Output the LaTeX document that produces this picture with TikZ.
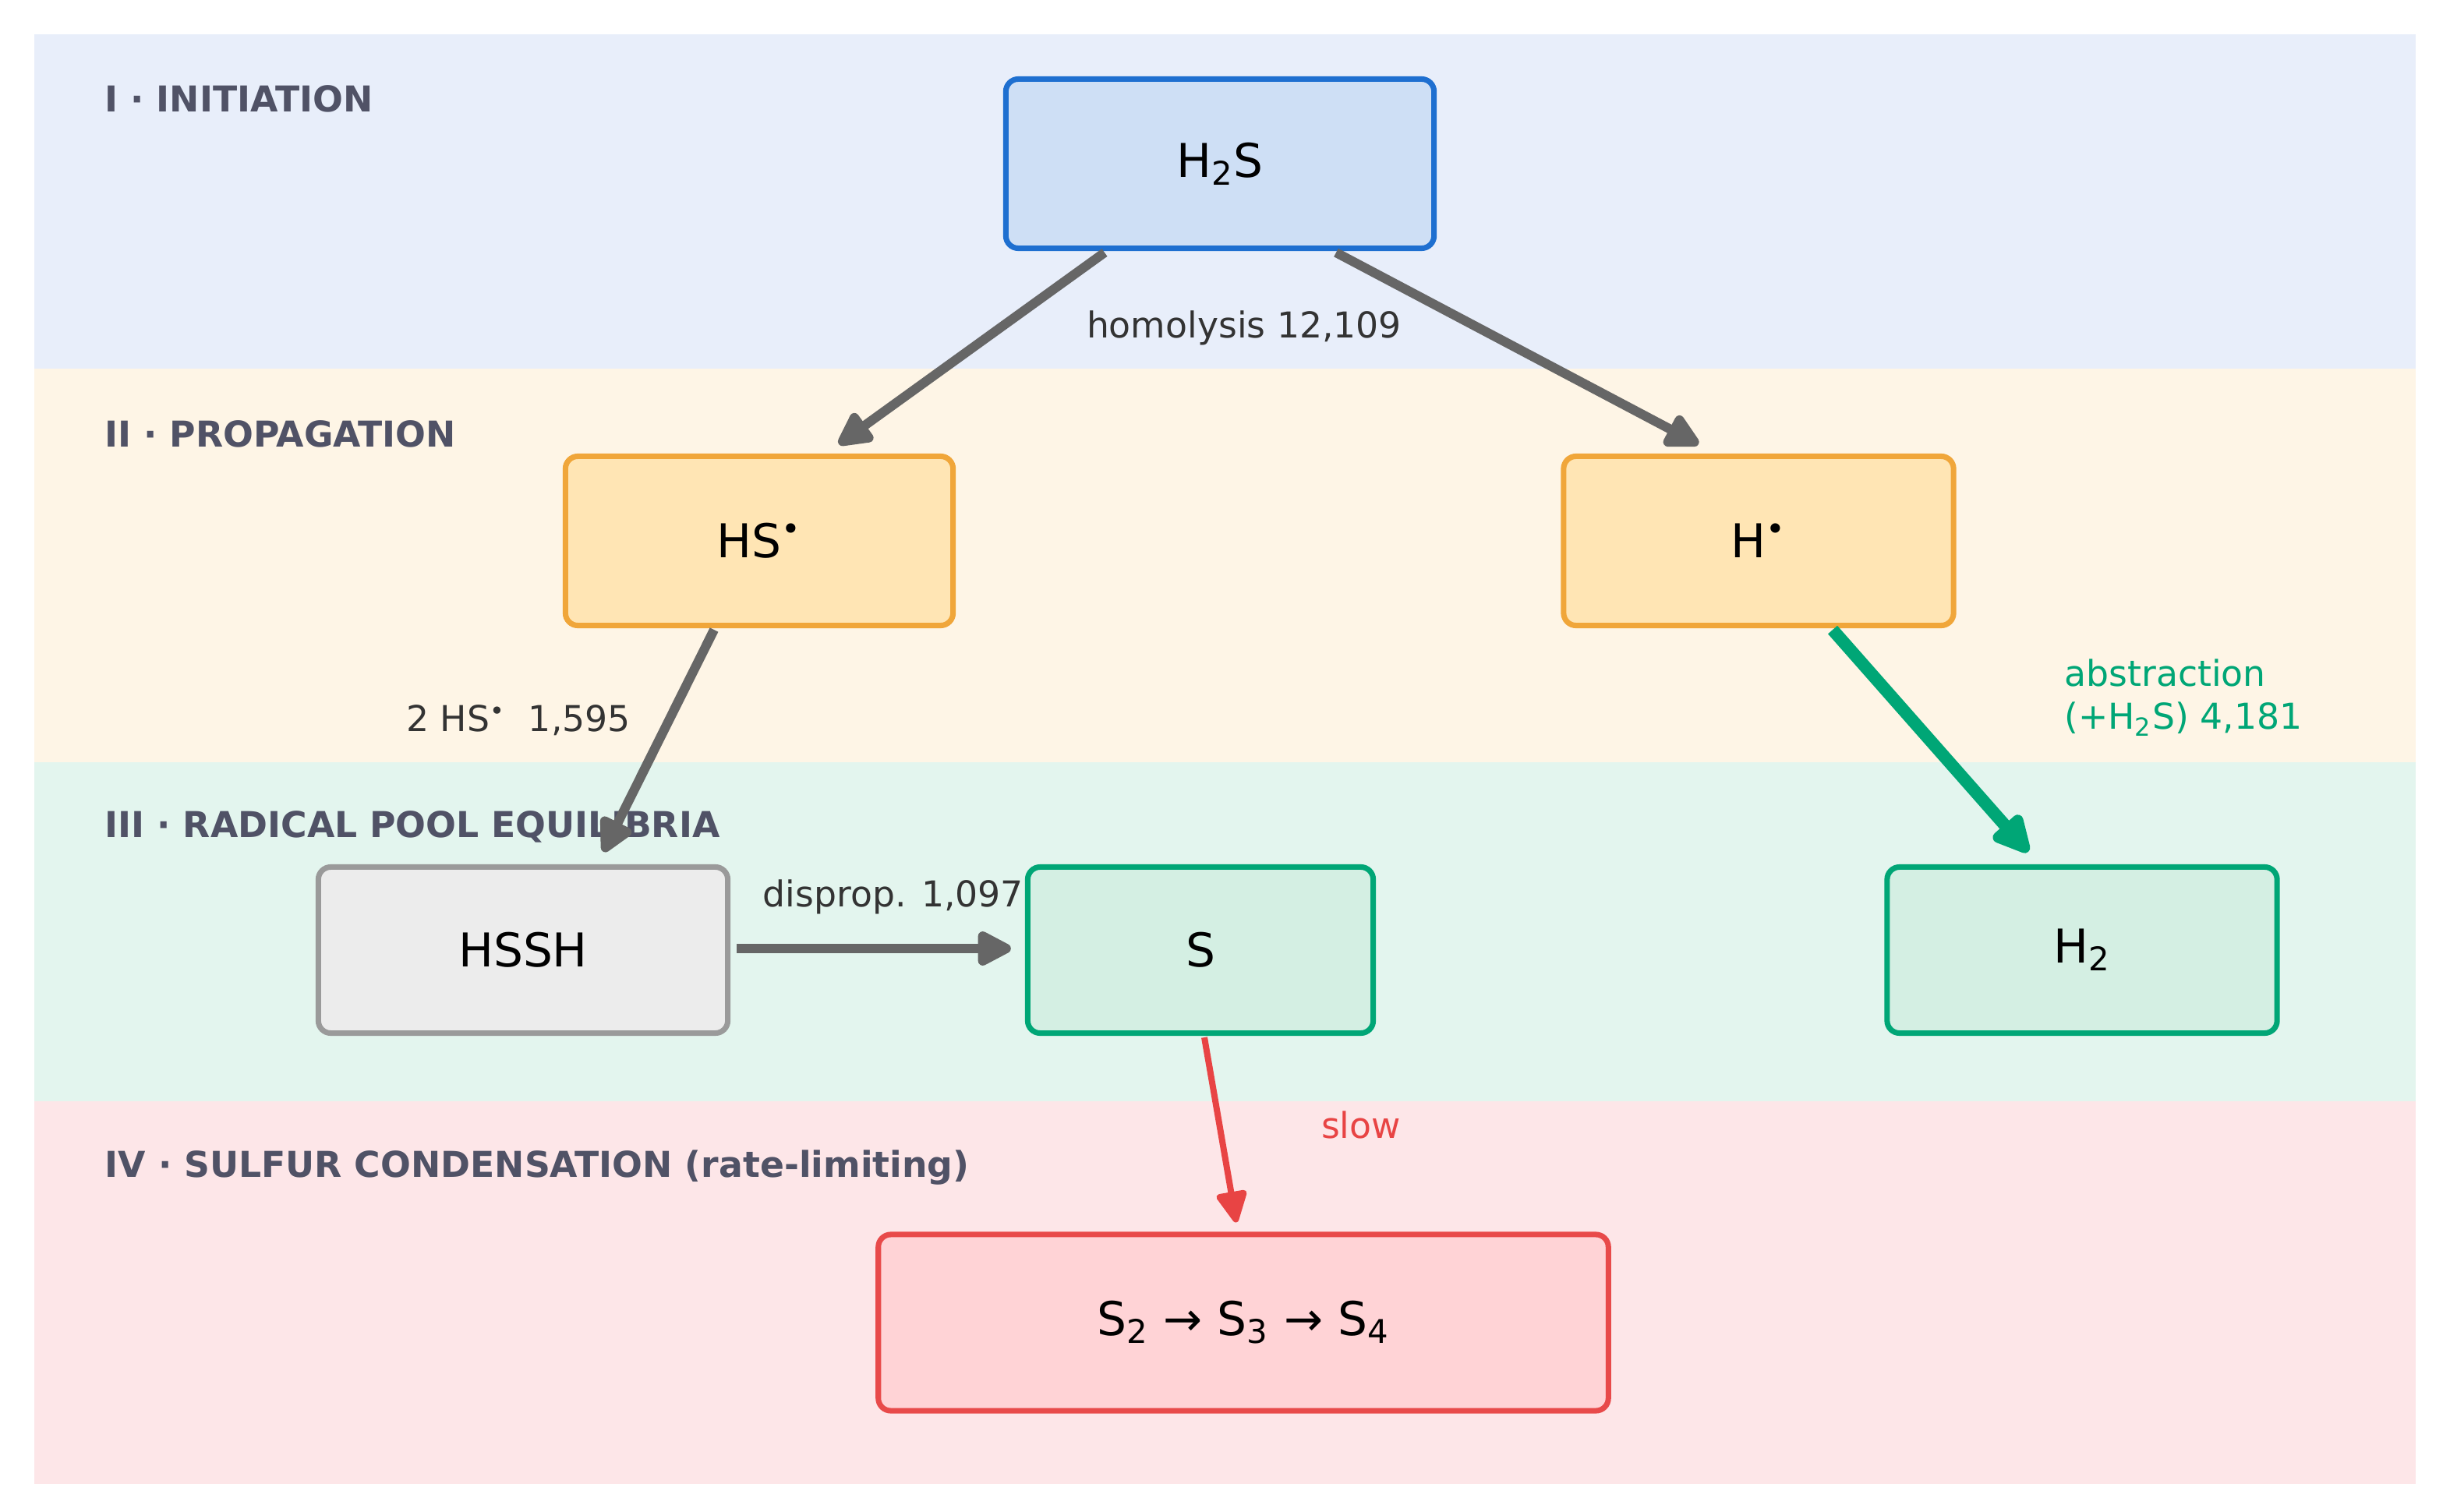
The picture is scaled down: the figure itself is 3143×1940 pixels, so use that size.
\documentclass[tikz,border=0pt]{standalone}
\usepackage{fontspec}
\setmainfont{DejaVu Sans}
\usetikzlibrary{arrows.meta}
\definecolor{bandA}{HTML}{E8EEFA}
\definecolor{bandB}{HTML}{FEF5E6}
\definecolor{bandC}{HTML}{E3F5EE}
\definecolor{bandD}{HTML}{FDE6E8}
\definecolor{blueFill}{HTML}{CEDFF5}
\definecolor{blueLine}{HTML}{1E6FD0}
\definecolor{orFill}{HTML}{FFE5B4}
\definecolor{orLine}{HTML}{F0A63A}
\definecolor{grFill}{HTML}{ECECEC}
\definecolor{grLine}{HTML}{9A9A9A}
\definecolor{gnFill}{HTML}{D4EFE3}
\definecolor{gnLine}{HTML}{00A676}
\definecolor{rdFill}{HTML}{FFD3D6}
\definecolor{rdLine}{HTML}{E84A4A}
\definecolor{titleCol}{HTML}{505266}
\definecolor{labCol}{HTML}{333333}
\definecolor{arrGray}{HTML}{666666}
\definecolor{arrGreen}{HTML}{00A676}
\definecolor{arrRed}{HTML}{E84444}
\begin{document}
\begin{tikzpicture}[x=0.01cm,y=-0.01cm,
  species/.style={rectangle, rounded corners=0.16cm, line width=2pt, inner sep=0pt,
    font=\fontsize{17}{20}\selectfont, text=black},
  bandtitle/.style={anchor=west, inner sep=0pt, font=\fontsize{13}{15}\selectfont\bfseries, text=titleCol},
  lab/.style={font=\fontsize{13}{15.5}\selectfont, text=labCol},
  grayarrow/.style={draw=arrGray, line width=0.12cm, -{Triangle[length=0.5cm,width=0.48cm,round]}},
  greenarrow/.style={draw=arrGreen, line width=0.16cm, -{Triangle[length=0.56cm,width=0.52cm,round]}},
  redarrow/.style={draw=arrRed, line width=0.08cm, -{Triangle[length=0.45cm,width=0.42cm,round]}}
]
\useasboundingbox[fill=white] (0,0) rectangle (3143,1940);
% bands
\fill[bandA] (44,44) rectangle (3099,473);
\fill[bandB] (44,473) rectangle (3099,978);
\fill[bandC] (44,978) rectangle (3099,1413);
\fill[bandD] (44,1413) rectangle (3099,1904);
\node[bandtitle] (tI) at (134,127) {I · INITIATION};
\node[bandtitle] (tII) at (134,557) {II · PROPAGATION};
\node[bandtitle] (tIII) at (134,1061) {III · RADICAL POOL EQUILIBRIA};
\node[bandtitle] (tIV) at (134,1498) {IV · SULFUR CONDENSATION (rate-limiting)};
% species
\node[species, fill=blueFill, draw=blueLine, minimum width=5.49cm, minimum height=2.17cm] (h2s) at (1565,210) {H\textsubscript{2}S};
\node[species, fill=orFill, draw=orLine, minimum width=4.97cm, minimum height=2.17cm] (hs) at (974,694) {HS\textsuperscript{•}};
\node[species, fill=orFill, draw=orLine, minimum width=5.0cm, minimum height=2.17cm] (h) at (2256,694) {H\textsuperscript{•}};
\node[species, fill=grFill, draw=grLine, minimum width=5.25cm, minimum height=2.13cm] (hssh) at (671,1219) {HSSH};
\node[species, fill=gnFill, draw=gnLine, minimum width=4.43cm, minimum height=2.13cm] (s) at (1540,1219) {S};
\node[species, fill=gnFill, draw=gnLine, minimum width=5.0cm, minimum height=2.13cm] (h2) at (2671,1219) {H\textsubscript{2}};
\node[species, fill=rdFill, draw=rdLine, minimum width=9.36cm, minimum height=2.26cm] (sn) at (1595,1697) {S\textsubscript{2} → S\textsubscript{3} → S\textsubscript{4}};
% connectors
\draw[grayarrow] ([shift={(-148,2)}]h2s.south) -- ([shift={(102,-12)}]hs.north);
\draw[grayarrow] ([shift={(149,2)}]h2s.south) -- ([shift={(-77,-12)}]h.north);
\draw[grayarrow] ([shift={(-58,2)}]hs.south) -- ([shift={(103,-16)}]hssh.north);
\draw[greenarrow] ([shift={(95,2)}]h.south) -- ([shift={(-69,-16)}]h2.north);
\draw[grayarrow] ([shift={(8,-2)}]hssh.east) -- ([shift={(-18,-2)}]s.west);
\draw[redarrow] ([shift={(5,2)}]s.south) -- ([shift={(-9,-12)}]sn.north);
% labels
\node[lab] (lhom) at (1596,421) {homolysis 12,109};
\node[lab] (lhs) at (665,924) {2 HS\textsuperscript{•}\ \ 1,595};
\node[lab] (ldis) at (1146,1151) {disprop. 1,097};
\node[lab, text=arrGreen, anchor=west, align=left] (labs) at (2636,895) {abstraction\\(+H\textsubscript{2}S) 4,181};
\node[lab, text=arrRed] (lslow) at (1746,1443) {slow};
\end{tikzpicture}
\end{document}
